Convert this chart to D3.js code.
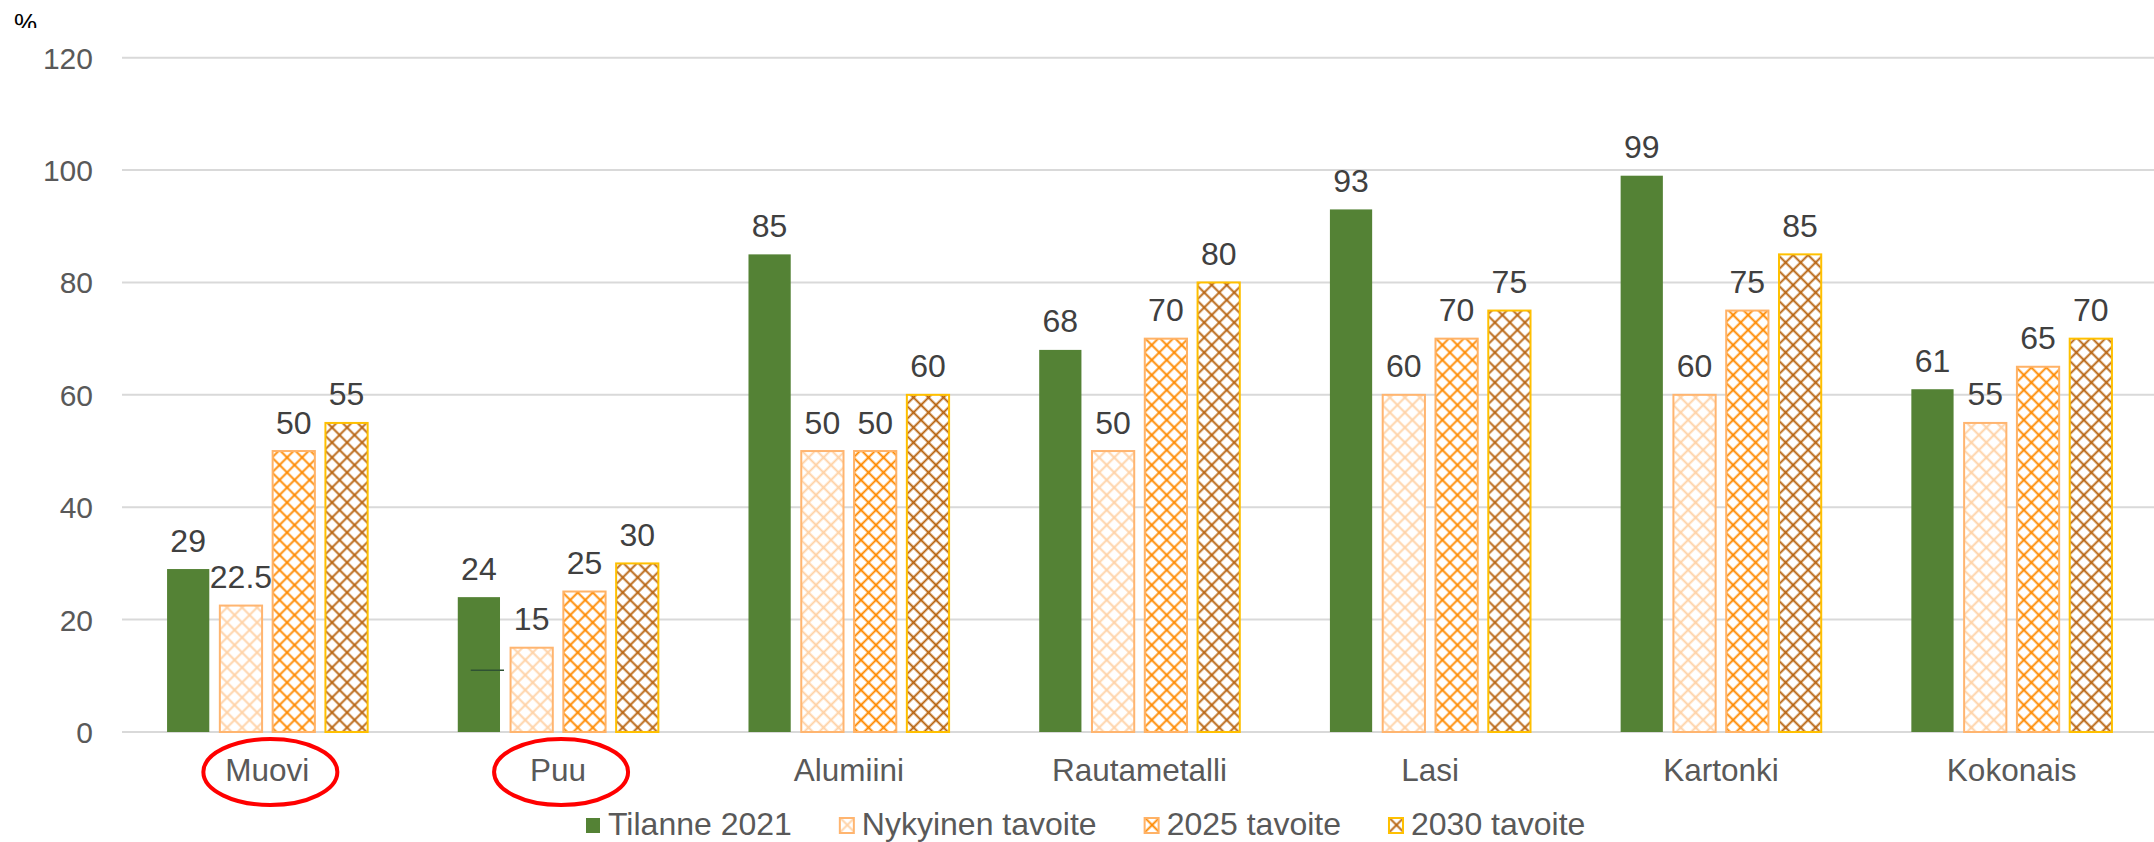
<!DOCTYPE html>
<html>
<head>
<meta charset="utf-8">
<script src="https://cdn.jsdelivr.net/npm/d3@7"></script>
<style>
  html, body { margin: 0; padding: 0; background: #fff; }
  svg { display: block; font-family: "Liberation Sans", Arial, sans-serif; }
</style>
</head>
<body>
<svg id="chart" width="2154" height="842"></svg>
<script>
// ---- data ----
const categories = ["Muovi", "Puu", "Alumiini", "Rautametalli", "Lasi", "Kartonki", "Kokonais"];
const seriesNames = ["Tilanne 2021", "Nykyinen tavoite", "2025 tavoite", "2030 tavoite"];
const tilanne2021 = [29, 24, 85, 68, 93, 99, 61];
const nykyinen = [22.5, 15, 50, 50, 60, 60, 55];
const tavoite2025 = [50, 25, 50, 70, 70, 75, 65];
const tavoite2030 = [55, 30, 60, 80, 75, 85, 70];
const yTicks = [0, 20, 40, 60, 80, 100, 120];
const circled = ["Muovi", "Puu"];

const seriesValues = [tilanne2021, nykyinen, tavoite2025, tavoite2030];

// ---- styles ----
const styles = [
  { fill: "#548235", stroke: "none", hatch: null },
  { fill: "#fff", stroke: "#FFB570", hatch: "#FFD2A6" },
  { fill: "#fff", stroke: "#FFB266", hatch: "#FF8A00" },
  { fill: "#fff", stroke: "#FFC000", hatch: "#B8630F" }
];

const svg = d3.select("#chart");
const plotLeft = 122, plotRight = 2154;

const y = d3.scaleLinear().domain([0, 120]).range([732, 57.7]);
const x0 = d3.scaleBand().domain(categories).range([plotLeft, 2157])
  .paddingInner(0.31).paddingOuter(0.155);
const x1 = d3.scaleBand().domain(seriesNames).range([0, x0.bandwidth()]).paddingInner(0.2);

// patterns
const defs = svg.append("defs");
const tile = 15 / Math.SQRT2;
styles.forEach((s, i) => {
  if (!s.hatch) return;
  const p = defs.append("pattern")
    .attr("id", "hatch" + i)
    .attr("patternUnits", "userSpaceOnUse")
    .attr("width", tile).attr("height", tile)
    .attr("patternTransform", "rotate(45)");
  p.append("rect").attr("width", tile).attr("height", tile).attr("fill", "#fff");
  p.append("path")
    .attr("d", `M0,${tile/2} H${tile} M${tile/2},0 V${tile}`)
    .attr("stroke", s.hatch).attr("stroke-width", 1.9).attr("fill", "none");
});
const fillOf = i => styles[i].hatch ? `url(#hatch${i})` : styles[i].fill;

// gridlines
svg.append("g").selectAll("line").data(yTicks).join("line")
  .attr("x1", plotLeft).attr("x2", plotRight)
  .attr("y1", d => y(d)).attr("y2", d => y(d))
  .attr("stroke", "#D9D9D9").attr("stroke-width", 2);

// y axis labels
const yAxis = d3.axisLeft(y).tickValues(yTicks).tickSize(0).tickPadding(0).tickFormat(d3.format("d"));
const yg = svg.append("g").attr("transform", "translate(93,0)").call(yAxis);
yg.select(".domain").remove();
yg.selectAll("text")
  .attr("font-size", 30).attr("fill", "#595959")
  .attr("font-family", "'Liberation Sans', Arial, sans-serif")
  .attr("dy", "0.35em");

// "%" label (clipped as in the original)
defs.append("clipPath").attr("id", "pctClip")
  .append("rect").attr("x", 0).attr("y", 0).attr("width", 60).attr("height", 28);
svg.append("text").attr("x", 14).attr("y", 32)
  .attr("font-size", 26).attr("fill", "#000")
  .attr("clip-path", "url(#pctClip)").text("%");

// bars
const groups = svg.append("g").selectAll("g").data(categories).join("g")
  .attr("transform", d => `translate(${x0(d)},0)`);

seriesNames.forEach((sn, si) => {
  groups.append("rect")
    .attr("x", x1(sn))
    .attr("y", (d, ci) => y(seriesValues[si][ci]))
    .attr("width", x1.bandwidth())
    .attr("height", (d, ci) => y(0) - y(seriesValues[si][ci]))
    .attr("fill", fillOf(si))
    .attr("stroke", styles[si].stroke)
    .attr("stroke-width", styles[si].stroke === "none" ? 0 : 2);
});

// value labels
seriesNames.forEach((sn, si) => {
  groups.append("text")
    .attr("x", x1(sn) + x1.bandwidth() / 2)
    .attr("y", (d, ci) => y(seriesValues[si][ci]) - 17.5)
    .attr("text-anchor", "middle")
    .attr("font-size", 32).attr("fill", "#404040")
    .text((d, ci) => seriesValues[si][ci]);
});

// small stray leader line on the Puu bar
const puuX = x0("Puu") + x1("Tilanne 2021");
svg.append("line")
  .attr("x1", puuX + 13).attr("x2", puuX + x1.bandwidth() + 4)
  .attr("y1", y(11)).attr("y2", y(11))
  .attr("stroke", "#2F5233").attr("stroke-width", 1.5);

// category labels
const xAxis = d3.axisBottom(x0).tickSize(0).tickPadding(0);
const xg = svg.append("g").attr("transform", "translate(0,759)").call(xAxis);
xg.select(".domain").remove();
xg.selectAll("text")
  .attr("font-size", 31.5).attr("fill", "#595959")
  .attr("font-family", "'Liberation Sans', Arial, sans-serif")
  .attr("dy", "0.71em");

// red ellipses
svg.append("g").selectAll("ellipse").data(circled).join("ellipse")
  .attr("cx", d => x0(d) + x0.bandwidth() / 2 + 3)
  .attr("cy", 772)
  .attr("rx", 67).attr("ry", 33)
  .attr("fill", "none").attr("stroke", "#FF0000").attr("stroke-width", 4);

// legend
const legend = svg.append("g");
const items = legend.selectAll("g").data(seriesNames).join("g");
items.append("rect")
  .attr("width", 14).attr("height", 15).attr("y", 818)
  .attr("fill", (d, i) => fillOf(i))
  .attr("stroke", (d, i) => styles[i].stroke)
  .attr("stroke-width", (d, i) => styles[i].stroke === "none" ? 0 : 2);
items.append("text")
  .attr("x", 22).attr("y", 835)
  .attr("font-size", 32).attr("fill", "#595959")
  .text(d => d);
let widths = [];
items.each(function () { widths.push(this.getBBox().width); });
const gap = 48;
let cursor = 586;
items.attr("transform", (d, i) => {
  const t = `translate(${cursor},0)`;
  cursor += widths[i] + gap;
  return t;
});
</script>
</body>
</html>
